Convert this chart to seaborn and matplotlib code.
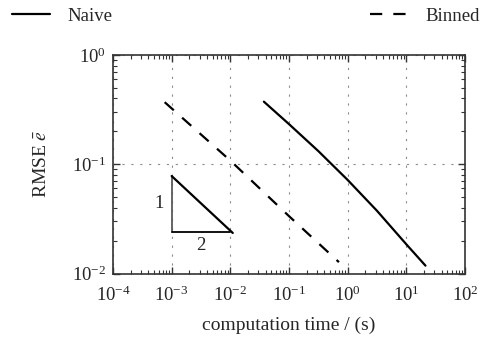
import numpy as np
import pandas as pd
import matplotlib
matplotlib.use("Agg")
import matplotlib.pyplot as plt
from matplotlib.ticker import LogLocator, NullFormatter
import seaborn as sns

# values
naive_time = [0.0373, 0.1, 0.316, 1.0, 3.16, 10.0, 21.2]
naive_rmse = [0.374, 0.233, 0.132, 0.0718, 0.0375, 0.0185, 0.0118]
binned_time = [7.6e-4, 1e-2, 1e-1, 0.71]
binned_rmse = [0.37, 0.108, 0.0335, 0.0127]

# slope triangle (1 : 2)
tri_x = [1e-3, 1e-3, 1e-2]
tri_y = [0.078, 0.024, 0.024]
hyp_x = [1e-3, 1.1e-2]
hyp_y = [0.078, 0.0235]

df = pd.concat([
    pd.DataFrame({"time": naive_time, "rmse": naive_rmse, "method": "Naive"}),
    pd.DataFrame({"time": binned_time, "rmse": binned_rmse, "method": "Binned"}),
])

sns.set_theme(style="ticks")
plt.rcParams["font.family"] = ["Liberation Serif", "DejaVu Serif"]
plt.rcParams["mathtext.fontset"] = "stix"

FS = 13.5

fig = plt.figure(figsize=(4.81, 3.38), dpi=100)
ax = fig.add_axes([113 / 481, 1 - 273.5 / 338, (465 - 113) / 481, (273.5 - 55) / 338])

sns.lineplot(data=df, x="time", y="rmse", style="method",
             dashes={"Naive": "", "Binned": (5.5, 5.0)}, color="black",
             linewidth=1.6, sort=False, estimator=None, ax=ax, legend=True)

# slope triangle
ax.plot(tri_x[:2], tri_y[:2], color="0.35", linewidth=1.3)
ax.plot(tri_x[1:], tri_y[1:], color="black", linewidth=1.3)
ax.plot(hyp_x, hyp_y, color="black", linewidth=1.6)
ax.text(6.1e-4, 0.0433, "1", ha="center", va="center", fontsize=FS)
ax.text(3.16e-3, 0.018, "2", ha="center", va="center", fontsize=FS)

ax.set_xscale("log")
ax.set_yscale("log")
ax.set_xlim(1e-4, 1e2)
ax.set_ylim(1e-2, 1e0)
ax.xaxis.set_major_locator(LogLocator(base=10, numticks=10))
ax.xaxis.set_minor_locator(LogLocator(base=10, subs=np.arange(2, 10), numticks=20))
ax.xaxis.set_minor_formatter(NullFormatter())
ax.yaxis.set_minor_formatter(NullFormatter())

ax.grid(True, which="major", color="0.55", linestyle=(0, (2, 6)), linewidth=0.8)
ax.tick_params(which="both", direction="in", top=True, right=True, color="0.2",
               labelsize=FS)
ax.tick_params(axis="x", which="major", pad=9)
ax.tick_params(axis="y", which="major", pad=5)
ax.tick_params(which="major", length=5, width=1)
ax.tick_params(which="minor", length=3, width=0.8)
for s in ax.spines.values():
    s.set_color("0.2")
    s.set_linewidth(1.2)

ax.set_xlabel("computation time / (s)", fontsize=14, labelpad=8)
ax.set_ylabel(r"RMSE $\bar{e}$", fontsize=14, labelpad=16)

handles, labels = ax.get_legend_handles_labels()
ax.get_legend().remove()
fig.legend(handles, labels, loc="center", ncol=2, mode="expand",
           bbox_to_anchor=(12 / 481, 1 - 26 / 338, 468 / 481, 20 / 338),
           frameon=False, fontsize=FS, handlelength=2.0, handletextpad=0.95,
           borderaxespad=0, borderpad=0)

fig.savefig("out.png", dpi=100)
